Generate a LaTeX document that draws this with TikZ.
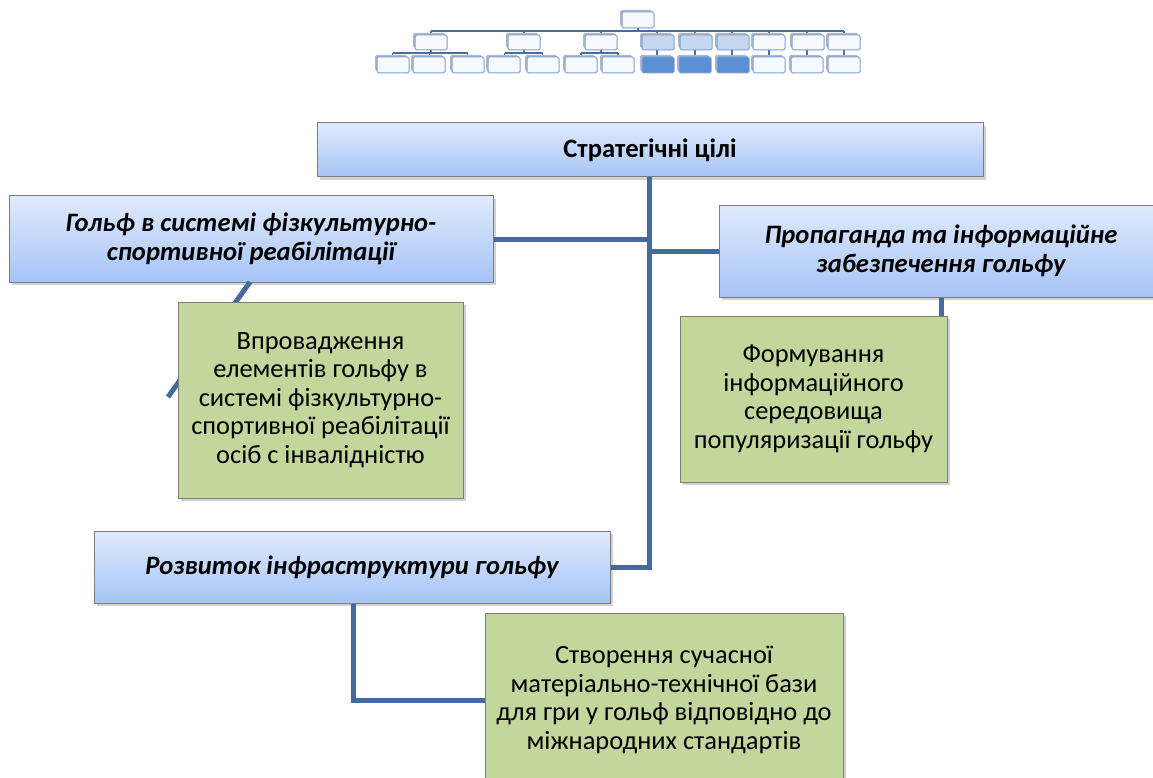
\documentclass[tikz,border=0pt]{standalone}
\usepackage{fontspec}
\setmainfont{Carlito}
\usetikzlibrary{shadows}
\definecolor{conn}{RGB}{70,106,158}
\definecolor{btop}{RGB}{224,234,252}
\definecolor{bbot}{RGB}{166,196,246}
\definecolor{gfill}{RGB}{195,214,155}
\definecolor{bord}{RGB}{125,125,125}
\definecolor{iconb}{RGB}{125,160,210}
\definecolor{iconl}{RGB}{74,110,155}
\definecolor{iconback}{RGB}{175,184,198}
\definecolor{iconw}{RGB}{246,249,254}
\definecolor{iconm}{RGB}{197,216,240}
\definecolor{icond}{RGB}{91,143,212}
\begin{document}
\begin{tikzpicture}[x=1pt,y=-1pt,
  bluebox/.style={draw=bord, line width=1pt, top color=btop, bottom color=bbot,
    drop shadow={shadow xshift=3pt,shadow yshift=-3pt,opacity=0.35},
    font=\fontsize{26.6}{28.5}\selectfont\bfseries\itshape, align=center, inner sep=0pt},
  greenbox/.style={draw=bord, line width=1pt, fill=gfill,
    drop shadow={shadow xshift=3pt,shadow yshift=-3pt,opacity=0.35},
    font=\fontsize{26.4}{28.5}\selectfont, align=center, inner sep=0pt},
  link/.style={draw=conn, line width=5pt},
  iconlink/.style={draw=iconl, line width=1.5pt},
  ibox/.style={draw=iconb, line width=1pt, rounded corners=1.5pt}]
\useasboundingbox (0,0) rectangle (1153,778);
\fill[white] (0,0) rectangle (1153,778);
\clip (0,0) rectangle (1153,778);

% ---------- small org-chart icon ----------
\draw[iconlink] (638,28) -- (638,31);
\draw[iconlink] (431,31) -- (844,31);
\foreach \c in {431,524,601,657,695,732,769,807,844}
  \draw[iconlink] (\c,31) -- (\c,35);
\draw[iconlink] (431,50) -- (431,53);
\draw[iconlink] (392.5,53) -- (467.5,53);
\foreach \c in {392.5,429.5,467.5} \draw[iconlink] (\c,53) -- (\c,57);
\draw[iconlink] (524,50) -- (524,53);
\draw[iconlink] (504.5,53) -- (542.5,53);
\foreach \c in {504.5,542.5} \draw[iconlink] (\c,53) -- (\c,57);
\draw[iconlink] (601,50) -- (601,53);
\draw[iconlink] (581,53) -- (618,53);
\foreach \c in {581,618} \draw[iconlink] (\c,53) -- (\c,57);
\foreach \c in {657,695,732,769,807,844} \draw[iconlink] (\c,50) -- (\c,57);
% root
\fill[iconback, rounded corners=1.5pt] (620,10) rectangle ++(32,16);
\draw[ibox, fill=iconw] (622,12) rectangle ++(32,16);
% middle level
\foreach \x/\f in {415/iconw,508/iconw,585/iconw,642/iconm,680/iconm,717/iconm,753/iconw,792/iconw,828/iconw}{
  \fill[iconback, rounded corners=1.5pt] (\x-2,33) rectangle ++(32,15);
  \draw[ibox, fill=\f] (\x,35) rectangle ++(32,15);
}
% bottom level
\foreach \x/\f in {377/iconw,413/iconw,452/iconw,488/iconw,527/iconw,565/iconw,602/iconw,642/icond,679/icond,717/icond,753/iconw,791/iconw,828/iconw}{
  \fill[iconback, rounded corners=1.5pt] (\x-2,55) rectangle ++(32,16);
  \draw[ibox, fill=\f] (\x,57) rectangle ++(32,16);
}

% ---------- helper coordinates ----------
\coordinate (trunkbot) at (649,567);
\coordinate (lefthead) at (250,282);
\coordinate (lefttail) at (168,397);
\coordinate (righttail) at (941,400);
\coordinate (bottomelbow) at (353,700);
\coordinate (gbleft) at (485,700);

% ---------- main boxes ----------
\node[bluebox, minimum width=666pt, minimum height=54pt, font=\fontsize{26.6}{28.5}\selectfont\bfseries]
  (top) at (650,150) {Стратегічні цілі};
\node[bluebox, minimum width=484pt, minimum height=86pt]
  (left) at (251,239) {Гольф в системі фізкультурно-\\спортивної реабілітації};
\node[bluebox, minimum width=444pt, minimum height=92pt]
  (right) at (941,251) {Пропаганда та інформаційне\\забезпечення гольфу};
\node[bluebox, minimum width=516pt, minimum height=72pt]
  (bottom) at (352,567) {Розвиток інфраструктури гольфу};

% ---------- connectors ----------
\draw[link] (top.south -| trunkbot) -- (trunkbot) -- (bottom.east);
\draw[link] (left.east) -- (left.east -| trunkbot);
\draw[link] (right.west -| trunkbot) -- (right.west);
\draw[link] (lefthead) -- (lefttail);
\draw[link] (right.south -| righttail) -- (righttail);
\draw[link] (bottom.south -| bottomelbow) -- (bottomelbow) -- (gbleft);

% ---------- green boxes ----------
\node[greenbox, minimum width=285pt, minimum height=196pt]
  (gleft) at (320.5,400) {Впровадження\\елементів гольфу в\\системі фізкультурно-\\спортивної реабілітації\\осіб с інвалідністю};
\node[greenbox, minimum width=267pt, minimum height=166pt]
  (gright) at (813.5,399) {Формування\\інформаційного\\середовища\\популяризації гольфу};
\node[greenbox, minimum width=358pt, minimum height=174pt]
  (gbottom) at (664,700) {Створення сучасної\\матеріально-технічної бази\\для гри у гольф відповідно до\\міжнародних стандартів};
\end{tikzpicture}
\end{document}
